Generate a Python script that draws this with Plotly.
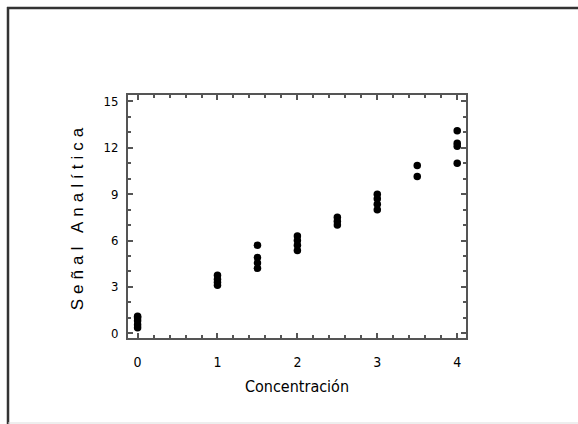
import plotly.graph_objects as go

# Data
conc_0 = [0.0, 0.0, 0.0, 0.0, 0.0]
sig_0 = [0.35, 0.55, 0.8, 1.0, 1.1]
conc_1 = [1.0, 1.0, 1.0, 1.0]
sig_1 = [3.1, 3.3, 3.5, 3.75]
conc_15 = [1.5, 1.5, 1.5, 1.5]
sig_15 = [5.7, 4.9, 4.55, 4.2]
conc_2 = [2.0, 2.0, 2.0, 2.0]
sig_2 = [6.3, 6.0, 5.7, 5.35]
conc_25 = [2.5, 2.5, 2.5]
sig_25 = [7.5, 7.25, 7.0]
conc_3 = [3.0, 3.0, 3.0, 3.0]
sig_3 = [9.0, 8.7, 8.35, 8.0]
conc_35 = [3.5, 3.5]
sig_35 = [10.85, 10.15]
conc_4 = [4.0, 4.0, 4.0, 4.0]
sig_4 = [13.1, 12.3, 12.1, 11.0]

x_ticks = [0, 1, 2, 3, 4]
y_ticks = [0, 3, 6, 9, 12, 15]

x_all = conc_0 + conc_1 + conc_15 + conc_2 + conc_25 + conc_3 + conc_35 + conc_4
y_all = sig_0 + sig_1 + sig_15 + sig_2 + sig_25 + sig_3 + sig_35 + sig_4

W, H = 578, 424
L, R, T, B = 128, 466, 95, 338

NARROW = "Liberation Sans Narrow, DejaVu Sans Condensed, Arial Narrow, sans-serif"

fig = go.Figure()
fig.add_trace(go.Scatter(
    x=x_all, y=y_all, mode="markers",
    marker=dict(color="black", size=7.5, line=dict(width=0)),
    showlegend=False, hoverinfo="skip",
))

fig.update_layout(
    width=W, height=H,
    margin=dict(l=L, r=W - R, t=T, b=H - B, pad=0),
    paper_bgcolor="white", plot_bgcolor="white",
    xaxis=dict(
        range=[-0.12, 4.11], tickvals=x_ticks, ticktext=[str(v) for v in x_ticks],
        ticks="inside", ticklen=5, tickwidth=1.5, tickcolor="#555",
        minor=dict(ticks="inside", dtick=0.2, ticklen=3, tickwidth=1.5, tickcolor="#555"),
        showline=True, linecolor="#555", linewidth=2, mirror="allticks",
        showgrid=False, zeroline=False,
        tickfont=dict(family=NARROW, size=14, color="black"),
        ticklabelstandoff=10,
        title=dict(text="Concentración", standoff=12,
                   font=dict(family=NARROW, size=16, color="black")),
    ),
    yaxis=dict(
        range=[-0.31, 15.42], tickvals=y_ticks, ticktext=[str(v) for v in y_ticks],
        ticks="inside", ticklen=5, tickwidth=1.5, tickcolor="#555",
        minor=dict(ticks="inside", dtick=1, ticklen=3, tickwidth=1.5, tickcolor="#555"),
        showline=True, linecolor="#555", linewidth=2, mirror="allticks",
        showgrid=False, zeroline=False,
        tickfont=dict(family=NARROW, size=13, color="black"),
        ticklabelstandoff=5,
        title=dict(text='<span style="letter-spacing:5px">Señal Analítica</span>', standoff=16,
                   font=dict(family="Liberation Sans, Arial, sans-serif", size=17, color="black")),
    ),
)

def px_x(p):
    return (p - L) / (R - L)

def px_y(p):
    return (B - p) / (B - T)

# outer frame
fig.add_shape(type="line", xref="paper", yref="paper",
              x0=px_x(8), x1=px_x(8), y0=px_y(7), y1=px_y(424),
              line=dict(color="#333", width=2.5))
fig.add_shape(type="line", xref="paper", yref="paper",
              x0=px_x(7), x1=px_x(600), y0=px_y(8), y1=px_y(8),
              line=dict(color="#333", width=2.5))
fig.add_shape(type="line", xref="paper", yref="paper",
              x0=px_x(8), x1=px_x(600), y0=px_y(423), y1=px_y(423),
              line=dict(color="#ddd", width=1))

fig.write_html("out.html")
